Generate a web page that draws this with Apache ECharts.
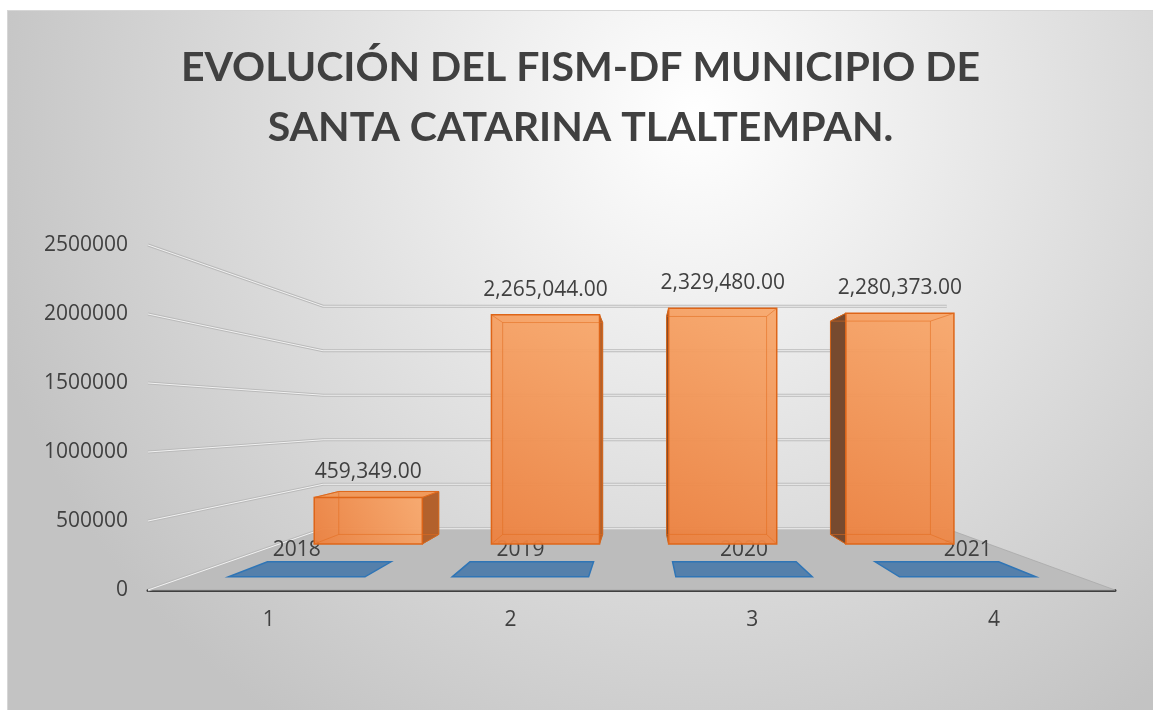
<!DOCTYPE html>
<html>
<head>
<meta charset="utf-8">
<title>Evolución del FISM-DF</title>
<script src="https://cdn.jsdelivr.net/npm/echarts@6/dist/echarts.min.js"></script>
<style>
html, body { margin: 0; padding: 0; background: #fff; }
#grafica {
    position: absolute; left: 7px; top: 10px; width: 1146px; height: 700px;
    border-top: 1px solid #d6d6d6; border-left: 1px solid #d6d6d6; box-sizing: border-box;
}
</style>
</head>
<body>
<div id="grafica"></div>
<script>
// datos
var categorias = ['1', '2', '3', '4'];
var anios = [2018, 2019, 2020, 2021];
var montos = [459349, 2265044, 2329480, 2280373];
var ticksY = [0, 500000, 1000000, 1500000, 2000000, 2500000];

// profundidades (fraccion hacia el punto de fuga)
var FONDO = 0.355;
var PLACA = [0.075, 0.162];
var CAJA = [0.267, 0.322];
var ANCHO = 0.61;
var FUENTE = '"Open Sans", sans-serif';

function marco(api) {
    var bw = api.size([1, 0])[0];
    var p0 = api.coord([0, 0]);
    var p3 = api.coord([categorias.length - 1, 0]);
    var izq = p0[0] - bw / 2, der = p3[0] + bw / 2;
    var cy = api.coord([0, ticksY[ticksY.length - 1] / 2])[1];
    return { bw: bw, izq: izq, der: der, fuga: [izq + 0.51 * (der - izq), cy] };
}
function hacia(f, p, r) {
    return [p[0] + r * (f[0] - p[0]), p[1] + r * (f[1] - p[1])];
}
function miles(v) {
    return v.toLocaleString('en-US', { minimumFractionDigits: 2, maximumFractionDigits: 2 });
}

var chart = echarts.init(document.getElementById('grafica'));
var option = {
    animation: false,
    backgroundColor: {
        type: 'radial', x: 0.6, y: 0.15, r: 1.05,
        colorStops: [{ offset: 0, color: '#ffffff' }, { offset: 1, color: '#c3c3c3' }]
    },
    title: {
        text: 'EVOLUCIÓN DEL FISM-DF MUNICIPIO DE\nSANTA CATARINA TLALTEMPAN.',
        left: 'center',
        top: 22,
        textStyle: { fontFamily: 'Lato', fontWeight: 'bold', fontSize: 41, lineHeight: 60, color: '#404040' }
    },
    grid: { left: 140, right: 38, top: 234, bottom: 120 },
    xAxis: {
        type: 'category',
        data: categorias,
        axisLine: { lineStyle: { color: '#404040', width: 3 } },
        axisTick: { show: false },
        axisLabel: { fontSize: 21, fontFamily: FUENTE, color: '#404040', margin: 20 }
    },
    yAxis: {
        type: 'value',
        min: 0, max: 2500000, interval: 500000,
        axisLine: { show: false },
        axisTick: { show: false },
        splitLine: { show: false },
        axisLabel: {
            fontSize: 21, fontFamily: FUENTE, color: '#404040', margin: 20,
            formatter: function (v) { return String(v); }
        }
    },
    series: [
        {
            // piso
            type: 'custom', z: 1, silent: true,
            data: [[0, 0]],
            renderItem: function (params, api) {
                var m = marco(api);
                var y = api.coord([0, 0])[1];
                var a = [m.izq, y], b = [m.der, y];
                return {
                    type: 'polygon',
                    shape: { points: [a, b, hacia(m.fuga, b, FONDO), hacia(m.fuga, a, FONDO)] },
                    style: { fill: '#bcbcbc', stroke: '#a9a9a9', lineWidth: 0.8 }
                };
            }
        },
        {
            // paredes (lineas de division)
            type: 'custom', z: 2, silent: true,
            data: ticksY.map(function (v) { return [0, v]; }),
            renderItem: function (params, api) {
                var m = marco(api);
                var y = api.coord([0, api.value(1)])[1];
                var a = [m.izq, y];
                var pts = [a, hacia(m.fuga, a, FONDO), hacia(m.fuga, [m.der, y], FONDO)];
                return {
                    type: 'group',
                    children: [
                        { type: 'polyline', shape: { points: pts }, style: { stroke: '#bababa', lineWidth: 3, fill: null } },
                        { type: 'polyline', shape: { points: pts }, style: { stroke: '#f2f2f2', lineWidth: 1, fill: null } }
                    ]
                };
            }
        },
        {
            // serie de años (placas azules)
            type: 'custom', z: 3, silent: true,
            data: anios.map(function (a, i) { return [i, a]; }),
            renderItem: function (params, api) {
                var m = marco(api);
                var v = api.value(1);
                var c = api.coord([api.value(0), v]);
                var hb = m.bw * ANCHO / 2;
                var l = [c[0] - hb, c[1]], r = [c[0] + hb, c[1]];
                var p = [hacia(m.fuga, l, PLACA[0]), hacia(m.fuga, r, PLACA[0]),
                         hacia(m.fuga, r, PLACA[1]), hacia(m.fuga, l, PLACA[1])];
                return {
                    type: 'group',
                    children: [
                        { type: 'polygon', shape: { points: p }, style: { fill: '#5580ab', stroke: '#2f75b6', lineWidth: 1.5 } },
                        {
                            type: 'text', x: (p[0][0] + p[1][0]) / 2, y: p[3][1] - 12,
                            style: { text: String(v), fill: '#404040', fontSize: 21, fontFamily: FUENTE, align: 'center', verticalAlign: 'middle' }
                        }
                    ]
                };
            }
        },
        {
            // montos (cajas naranjas)
            type: 'custom', z: 4, silent: true,
            data: montos.map(function (v, i) { return [i, v]; }),
            renderItem: function (params, api) {
                var m = marco(api);
                var i = api.value(0), v = api.value(1);
                var top = api.coord([i, v]), base = api.coord([i, 0]);
                var hb = m.bw * ANCHO / 2;
                var esq = [[top[0] - hb, top[1]], [top[0] + hb, top[1]], [top[0] + hb, base[1]], [top[0] - hb, base[1]]];
                var fr = esq.map(function (p) { return hacia(m.fuga, p, CAJA[0]); });
                var bk = esq.map(function (p) { return hacia(m.fuga, p, CAJA[1]); });
                var hijos = [];
                var cx = (fr[0][0] + fr[1][0]) / 2;
                if (cx < m.fuga[0]) {
                    hijos.push({ type: 'polygon', shape: { points: [fr[1], bk[1], bk[2], fr[2]] },
                        style: { fill: '#b3612c', stroke: '#c0601c', lineWidth: 1 } });
                } else {
                    hijos.push({ type: 'polygon', shape: { points: [fr[0], bk[0], bk[3], fr[3]] },
                        style: { fill: '#774a2f', stroke: '#b85a1a', lineWidth: 1 } });
                }
                if (bk[0][1] < fr[0][1]) {
                    hijos.push({ type: 'polygon', shape: { points: [fr[0], fr[1], bk[1], bk[0]] },
                        style: { fill: '#f09a5c', stroke: '#d9661c', lineWidth: 1 } });
                }
                hijos.push({
                    type: 'polygon', shape: { points: fr },
                    style: {
                        fill: {
                            type: 'linear', x: 1, y: 0, x2: 0, y2: 1,
                            colorStops: [{ offset: 0, color: 'rgba(248,168,108,0.95)' }, { offset: 1, color: 'rgba(236,128,62,0.95)' }]
                        },
                        stroke: '#de6518', lineWidth: 1.5
                    }
                });
                hijos.push({ type: 'polygon', shape: { points: bk }, style: { fill: null, stroke: 'rgba(226,108,30,0.55)', lineWidth: 1 } });
                for (var k = 0; k < 4; k++) {
                    hijos.push({ type: 'line', shape: { x1: fr[k][0], y1: fr[k][1], x2: bk[k][0], y2: bk[k][1] },
                        style: { stroke: 'rgba(226,108,30,0.55)', lineWidth: 1 } });
                }
                hijos.push({
                    type: 'text', x: cx, y: fr[0][1] - 25,
                    style: { text: miles(v), fill: '#404040', fontSize: 21, fontFamily: FUENTE, align: 'center', verticalAlign: 'middle' }
                });
                return { type: 'group', children: hijos };
            }
        }
    ]
};
chart.setOption(option);
</script>
</body>
</html>
